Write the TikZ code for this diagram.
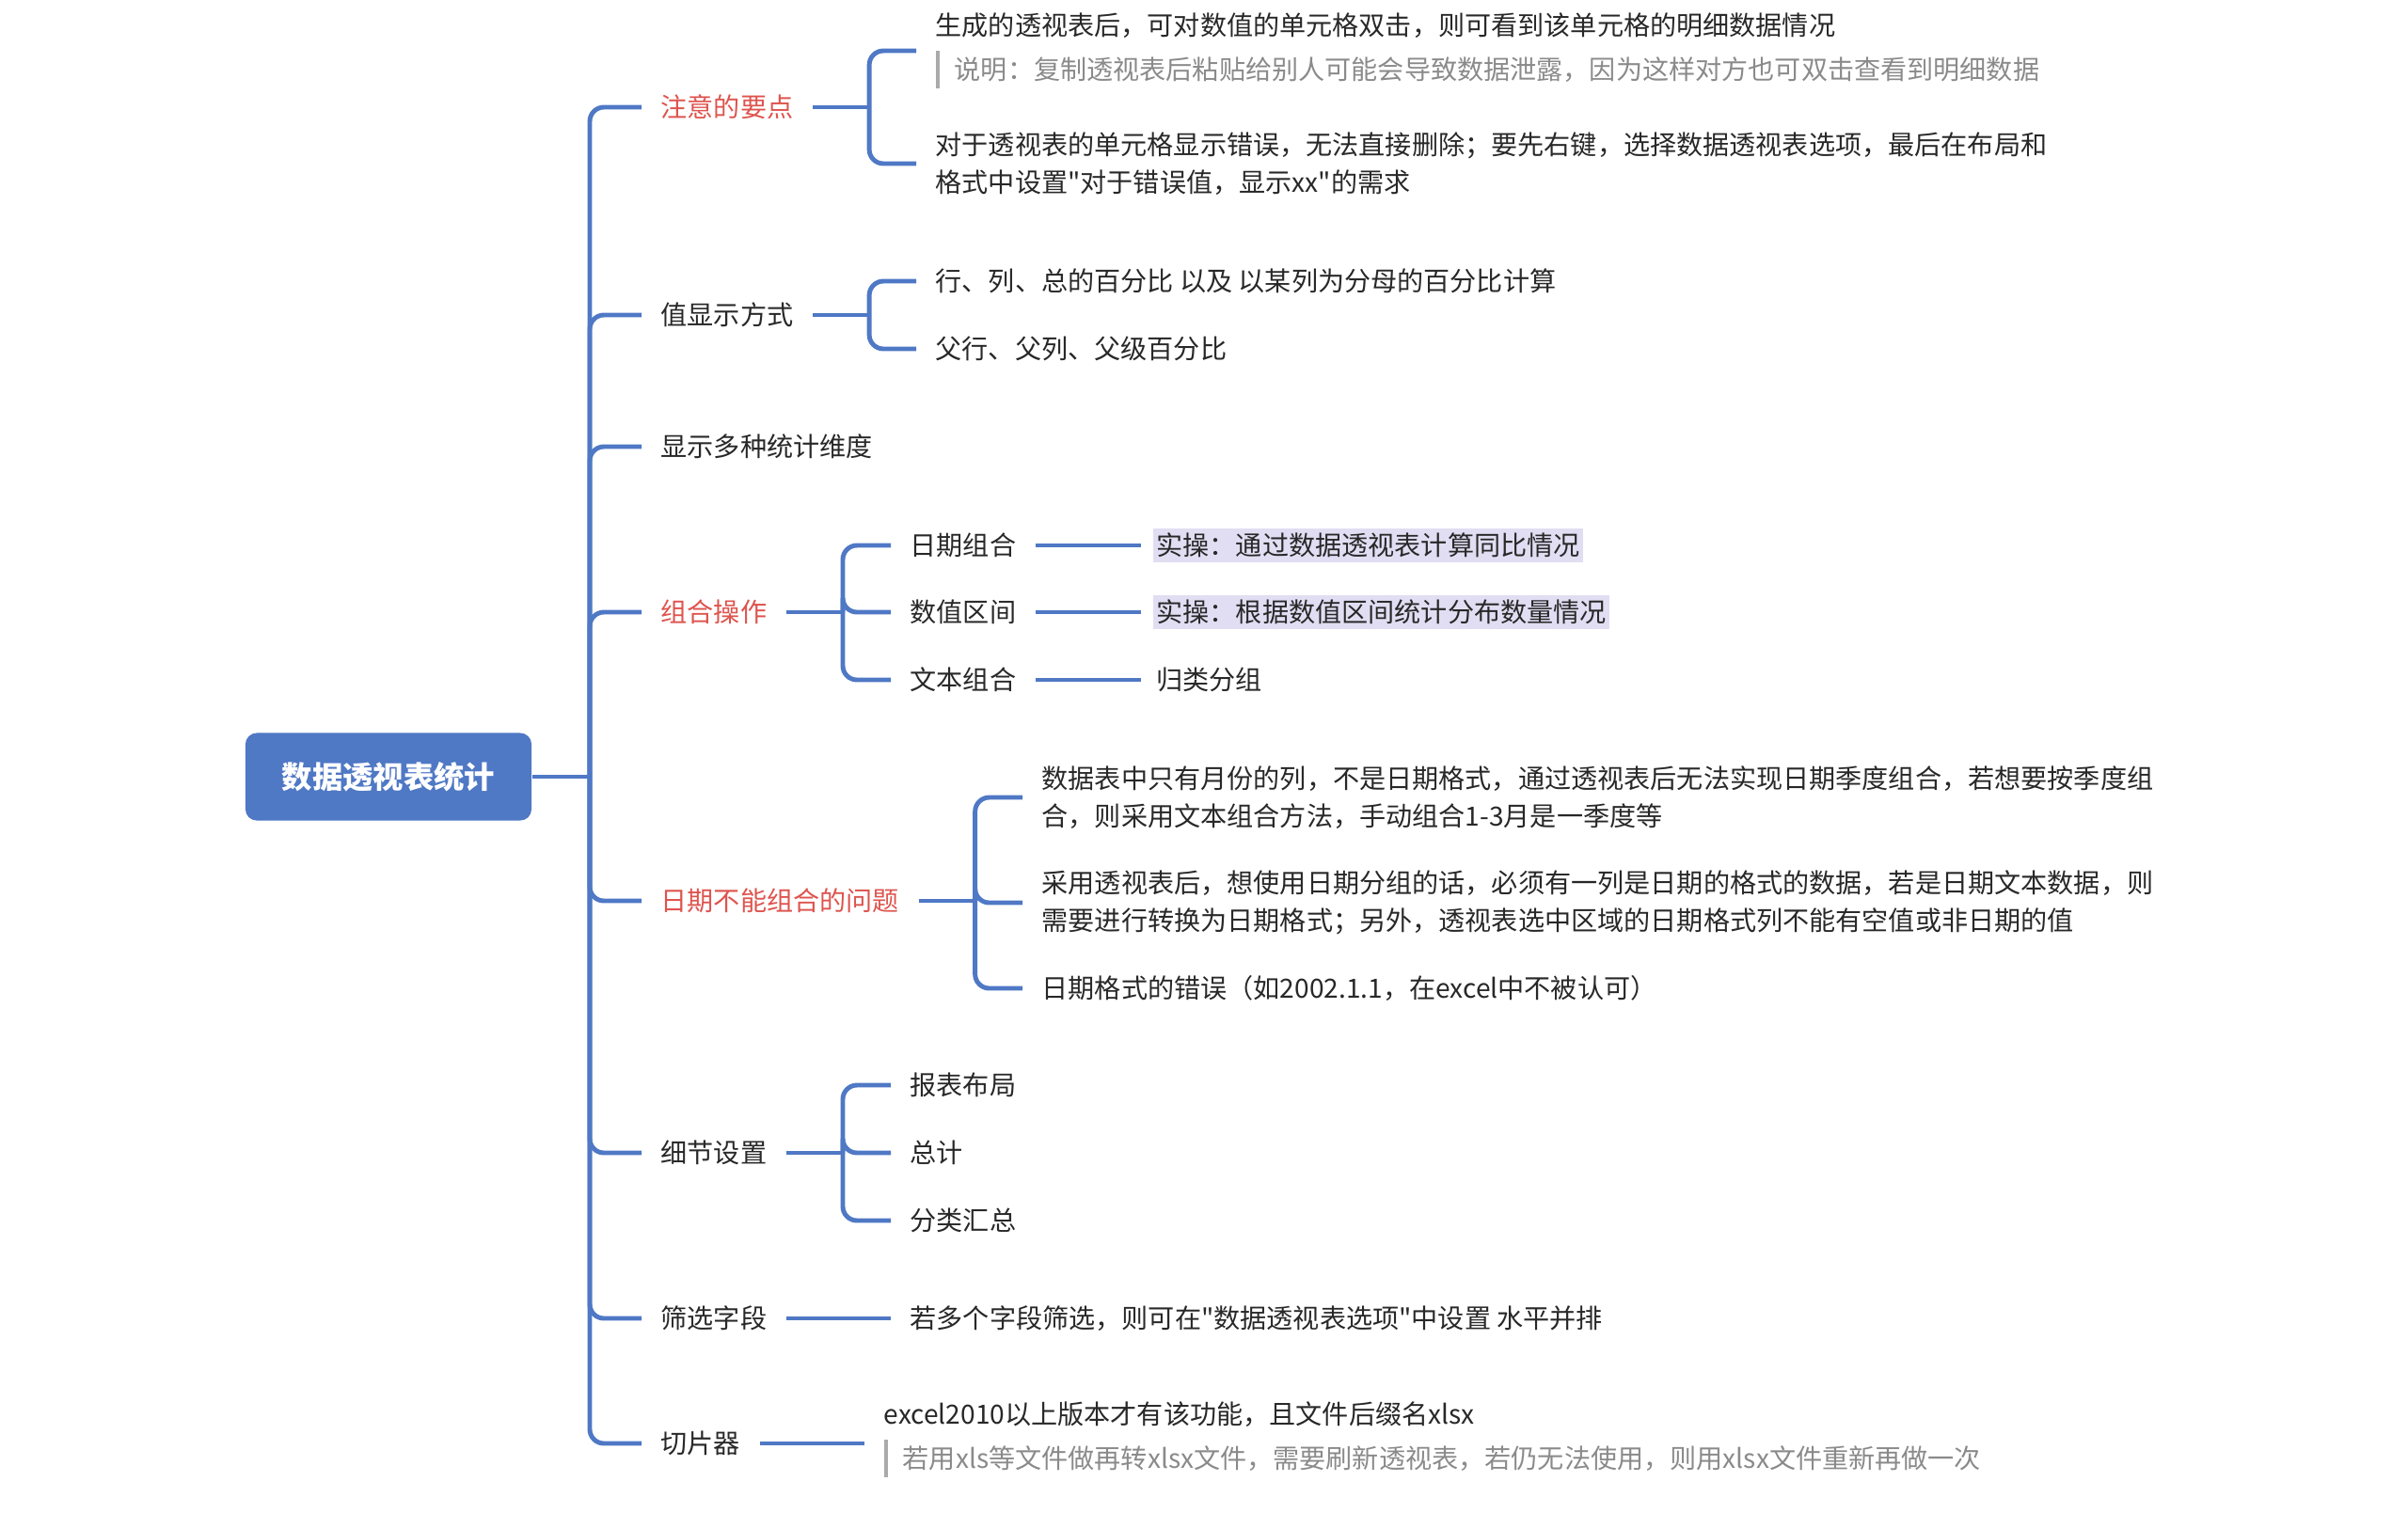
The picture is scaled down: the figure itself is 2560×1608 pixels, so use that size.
\documentclass[tikz,border=0pt]{standalone}
\usepackage{fontspec}
\newfontfamily\cjkfont{Noto Sans CJK SC}
\usepackage{xcolor}
\usepackage{tikz}

\definecolor{mapblue}{RGB}{79,120,197}
\definecolor{textdark}{RGB}{40,40,40}
\definecolor{topicred}{RGB}{222,84,78}
\definecolor{notegray}{RGB}{138,138,138}
\definecolor{notebar}{RGB}{170,170,170}
\definecolor{hlpurple}{RGB}{225,222,243}

\newcommand{\notetext}[1]{{\color{notebar}\rule[-2.7pt]{1.2pt}{11.4pt}}\hspace{4.5pt}\textcolor{notegray}{#1}}

\tikzset{
  link/.style={draw=mapblue, line width=1.4pt, rounded corners=0.15cm},
  rootbox/.style={fill=mapblue, text=white, rounded corners=0.12cm,
    minimum width=3.04cm, minimum height=0.93cm,
    font=\cjkfont\fontsize{9.2pt}{11pt}\selectfont\bfseries},
  topic/.style={anchor=west, inner xsep=0.2cm, inner ysep=2pt, text=textdark,
    align=left, font=\cjkfont\fontsize{8pt}{11.5pt}\selectfont},
  keytopic/.style={topic, text=topicred},
  leaf/.style={topic, inner xsep=1pt, inner ysep=1.5pt, outer xsep=0.13cm},
  practice/.style={leaf, fill=hlpurple}
}

\begin{document}
\begin{tikzpicture}[x=0.01cm, y=-0.01cm]
    \useasboundingbox (0,0) rectangle (2560,1608);

    % Root and trunk
    \node[rootbox] (root) at (413,826) {数据透视表统计};
    \coordinate (trunk) at (627,826);

    % Main topics
    \node[keytopic] (a1) at (682,114) {注意的要点};
    \node[topic] (a2) at (682,335) {值显示方式};
    \node[topic] (a3) at (682,475) {显示多种统计维度};
    \node[keytopic] (a4) at (682,651) {组合操作};
    \node[keytopic] (a5) at (682,958) {日期不能组合的问题};
    \node[topic] (a6) at (682,1226) {细节设置};
    \node[topic] (a7) at (682,1402) {筛选字段};
    \node[topic] (a8) at (682,1535) {切片器};

    % Subtopics
    \node[topic] (b11) at (974,54) {生成的透视表后，可对数值的单元格双击，则可看到该单元格的明细数据情况\\[2pt]
      \notetext{说明：复制透视表后粘贴给别人可能会导致数据泄露，因为这样对方也可双击查看到明细数据}};
    \node[topic] (b12) at (974,174) {对于透视表的单元格显示错误，无法直接删除；要先右键，选择数据透视表选项，最后在布局和\\
      格式中设置"对于错误值，显示xx"的需求};

    \node[topic] (b21) at (974,299) {行、列、总的百分比 以及 以某列为分母的百分比计算};
    \node[topic] (b22) at (974,371) {父行、父列、父级百分比};

    \node[topic] (b41) at (947,580) {日期组合};
    \node[topic] (b42) at (947,651) {数值区间};
    \node[topic] (b43) at (947,723) {文本组合};
    \node[practice] (c41) at (1213,580) {实操：通过数据透视表计算同比情况};
    \node[practice] (c42) at (1213,651) {实操：根据数值区间统计分布数量情况};
    \node[leaf] (c43) at (1213,723) {归类分组};

    \node[topic] (b51) at (1087,848) {数据表中只有月份的列，不是日期格式，通过透视表后无法实现日期季度组合，若想要按季度组\\
      合，则采用文本组合方法，手动组合1-3月是一季度等};
    \node[topic] (b52) at (1087,960) {采用透视表后，想使用日期分组的话，必须有一列是日期的格式的数据，若是日期文本数据，则\\
      需要进行转换为日期格式；另外，透视表选中区域的日期格式列不能有空值或非日期的值};
    \node[topic] (b53) at (1087,1051) {日期格式的错误（如2002.1.1，在excel中不被认可）};

    \node[topic] (b61) at (947,1154) {报表布局};
    \node[topic] (b62) at (947,1226) {总计};
    \node[topic] (b63) at (947,1298) {分类汇总};

    \node[topic] (b71) at (947,1402) {若多个字段筛选，则可在"数据透视表选项"中设置 水平并排};

    \node[topic] (b81) at (919,1531) {excel2010以上版本才有该功能，且文件后缀名xlsx\\[2pt]
      \notetext{若用xls等文件做再转xlsx文件，需要刷新透视表，若仍无法使用，则用xlsx文件重新再做一次}};

    % Trunk connectors
    \draw[link] (root) -- (trunk);
    \foreach \n in {a1,a2,a3,a4,a5,a6,a7,a8}
        \draw[link] (trunk) |- (\n.west);

    % Brackets to subtopics
    \coordinate (j1) at ([xshift=0.6cm]a1.east);
    \coordinate (j2) at ([xshift=0.6cm]a2.east);
    \coordinate (j4) at ([xshift=0.6cm]a4.east);
    \coordinate (j5) at ([xshift=0.6cm]a5.east);
    \coordinate (j6) at ([xshift=0.6cm]a6.east);
    \draw[link] (a1) -- (j1);
    \draw[link] (a2) -- (j2);
    \draw[link] (a4) -- (j4);
    \draw[link] (a5) -- (j5);
    \draw[link] (a6) -- (j6);
    \foreach \n in {b11,b12} \draw[link] (j1) |- (\n.west);
    \foreach \n in {b21,b22} \draw[link] (j2) |- (\n.west);
    \foreach \n in {b41,b42,b43} \draw[link] (j4) |- (\n.west);
    \foreach \n in {b51,b52,b53} \draw[link] (j5) |- (\n.west);
    \foreach \n in {b61,b62,b63} \draw[link] (j6) |- (\n.west);
    \draw[link] (a7) -- (b71);
    \draw[link] (a8) -- (a8 -| b81.west);

    % Grouping details
    \draw[link] (b41) -- (c41);
    \draw[link] (b42) -- (c42);
    \draw[link] (b43) -- (c43);
\end{tikzpicture}
\end{document}
